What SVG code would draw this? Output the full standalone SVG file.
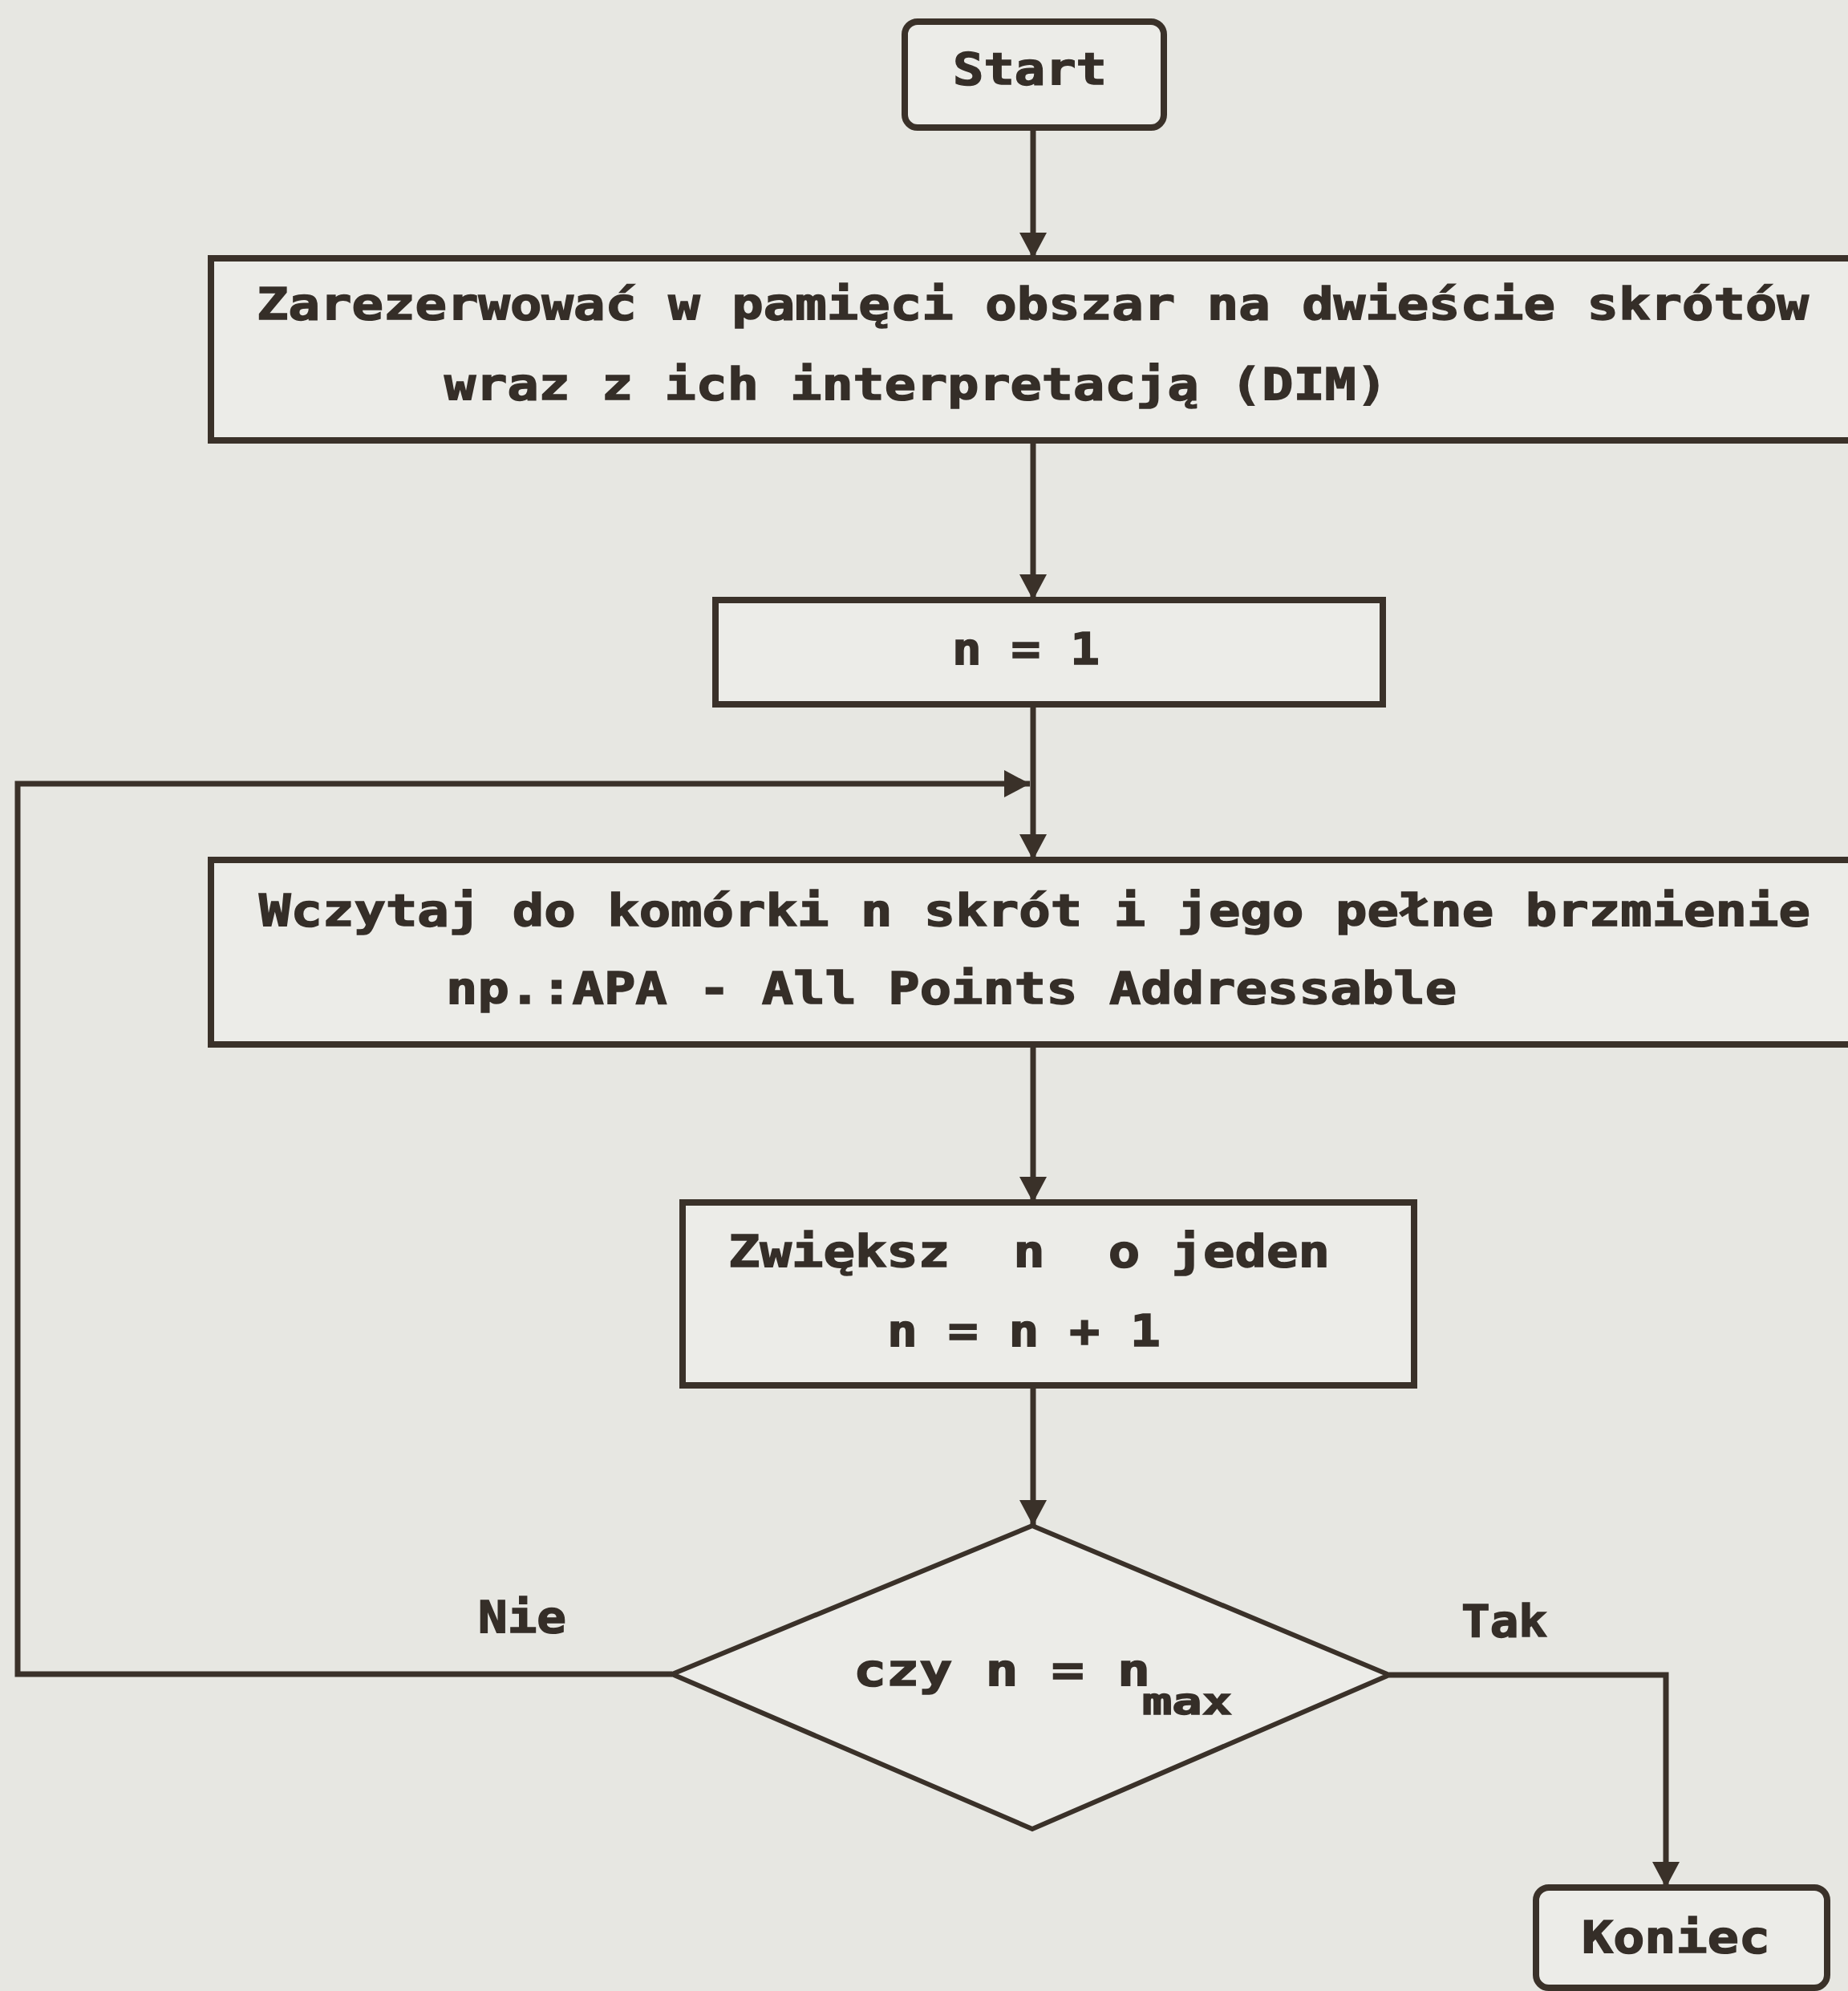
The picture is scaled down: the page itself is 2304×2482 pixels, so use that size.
<svg xmlns="http://www.w3.org/2000/svg" width="2304" height="2482" viewBox="0 0 2304 2482">
<defs>
<style>
.bg{fill:#e7e7e2}
.box{fill:#ecece8;stroke:#3a3129;stroke-width:8}
.dia{fill:#ecece8;stroke:#3a3129;stroke-width:6}
.ln{fill:none;stroke:#3a3129;stroke-width:7}
.t{font-family:"DejaVu Sans Mono","Liberation Mono",monospace;font-weight:bold;font-size:55px;fill:#352e28;stroke:#352e28;stroke-width:1.5}
.s{font-size:46px}
</style>
<marker id="ah" viewBox="0 0 32 34" refX="32" refY="17" markerWidth="32" markerHeight="34" markerUnits="userSpaceOnUse" orient="auto">
<path d="M0,0 L32,17 L0,34 Z" fill="#3a3129"/>
</marker>
</defs>
<rect class="bg" x="0" y="0" width="2304" height="2482"/>
<g id="connectors">
<path class="ln" d="M1288,160 V322" marker-end="url(#ah)"/>
<path class="ln" d="M1288,549 V748" marker-end="url(#ah)"/>
<path class="ln" d="M1288,878 V1072" marker-end="url(#ah)"/>
<path class="ln" d="M1288,1302 V1499" marker-end="url(#ah)"/>
<path class="ln" d="M1288,1727 V1902" marker-end="url(#ah)"/>
<path class="ln" d="M838,2087 H22 V977 H1284" marker-end="url(#ah)"/>
<path class="ln" d="M1732,2088 H2077 V2353" marker-end="url(#ah)"/>
<text class="t" x="596" y="2035" textLength="110" lengthAdjust="spacingAndGlyphs">Nie</text>
<text class="t" x="1822" y="2040" textLength="107" lengthAdjust="spacingAndGlyphs">Tak</text>
</g>
<g id="start">
<rect class="box" x="1128" y="27" width="323" height="132" rx="16"/>
<text class="t" x="1188" y="105" font-size="58" textLength="192" lengthAdjust="spacingAndGlyphs">Start</text>
</g>
<g id="reserve">
<rect class="box" x="263" y="322" width="2100" height="227"/>
<text class="t" x="320" y="398" textLength="1935" lengthAdjust="spacingAndGlyphs">Zarezerwować w pamięci obszar na dwieście skrótów</text>
<text class="t" x="554" y="498" textLength="1176" lengthAdjust="spacingAndGlyphs">wraz z ich interpretacją (DIM)</text>
</g>
<g id="init">
<rect class="box" x="892" y="748" width="832" height="130"/>
<text class="t" x="1187" y="828" textLength="184" lengthAdjust="spacingAndGlyphs">n = 1</text>
</g>
<g id="read">
<rect class="box" x="263" y="1072" width="2100" height="230"/>
<text class="t" x="323" y="1154" textLength="1934" lengthAdjust="spacingAndGlyphs">Wczytaj do komórki n skrót i jego pełne brzmienie</text>
<text class="t" x="556" y="1251" textLength="1260" lengthAdjust="spacingAndGlyphs">np.:APA - All Points Addressable</text>
</g>
<g id="increment">
<rect class="box" x="851" y="1499" width="912" height="228"/>
<text class="t" x="908" y="1579" textLength="750" lengthAdjust="spacingAndGlyphs" xml:space="preserve">Zwiększ  n  o jeden</text>
<text class="t" x="1106" y="1678" textLength="341" lengthAdjust="spacingAndGlyphs">n = n + 1</text>
</g>
<g id="decision">
<path class="dia" d="M1287,1902 L1732,2088 L1287,2280 L838,2087 Z"/>
<text class="t" x="1064" y="2101" textLength="370" lengthAdjust="spacingAndGlyphs">czy n = n</text>
<text class="t s" x="1424" y="2137" textLength="112" lengthAdjust="spacingAndGlyphs">max</text>
</g>
<g id="end">
<rect class="box" x="1915" y="2353" width="363" height="125" rx="16"/>
<text class="t" x="1972" y="2434" textLength="235" lengthAdjust="spacingAndGlyphs">Koniec</text>
</g>
</svg>
